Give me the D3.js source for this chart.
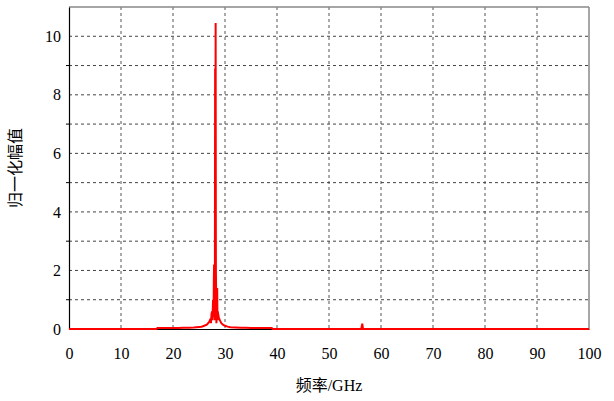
<!DOCTYPE html>
<html>
<head>
<meta charset="utf-8">
<script src="https://cdn.jsdelivr.net/npm/d3@7"></script>
<style>
  body { margin: 0; background: #fff; }
  text { font-family: "Liberation Serif", "Noto Sans CJK SC", serif; }
</style>
</head>
<body>
<script>
// spectrum (GHz, normalised amplitude)
var freq = [0, 16.8, 17, 18, 19, 20, 21, 22, 23, 24, 25, 25.5, 26, 26.5, 27, 27.2, 27.3, 27.4, 27.5, 27.6, 27.7,
  27.8, 27.85, 27.9, 28.0, 28.05, 28.1, 28.15, 28.2, 28.25, 28.3, 28.35, 28.4, 28.5, 28.55, 28.6, 28.7, 28.8, 29, 29.3,
  29.6, 30, 30.5, 31, 32, 33, 34, 35, 36, 37, 38, 39, 39.2, 56.2, 56.4, 56.5, 56.6, 57, 100];
var amp = [0, 0, 0.03, 0.03, 0.03, 0.03, 0.03, 0.04, 0.04, 0.05, 0.07, 0.08, 0.11, 0.15, 0.25, 0.35, 0.2, 0.5, 0.6, 0.3, 1.0,
  0.4, 1.6, 2.2, 1.4, 0.3, 8.9, 3.0, 10.45, 2.0, 1.2, 0.2, 0.9, 1.4, 0.3, 0.6, 0.5, 0.4, 0.3, 0.2,
  0.15, 0.11, 0.08, 0.06, 0.05, 0.04, 0.04, 0.03, 0.03, 0.03, 0.03, 0.03, 0, 0, 0.18, 0.05, 0, 0, 0];

var xTicks = [0, 10, 20, 30, 40, 50, 60, 70, 80, 90, 100];
var yTicks = [0, 2, 4, 6, 8, 10];
var yGrid = [1, 2, 3, 4, 5, 6, 7, 8, 9, 10];
var yMinor = [1, 3, 5, 7, 9];

var svg = d3.select("body").append("svg")
  .attr("width", 614)
  .attr("height", 401);

var margin = {top: 7, right: 25, bottom: 72, left: 69},
  width = 614 - margin.left - margin.right,
  height = 401 - margin.top - margin.bottom,
  g = svg.append("g").attr("transform", "translate(" + margin.left + "," + margin.top + ")");

var x = d3.scaleLinear().domain([0, 100]).range([0, width]);
var y = d3.scaleLinear().domain([0, 11]).range([height, 0]);

// grid
g.selectAll(".vgrid").data(xTicks.slice(1, -1)).enter().append("line")
  .attr("x1", function(d) { return x(d); })
  .attr("x2", function(d) { return x(d); })
  .attr("y1", 0).attr("y2", height)
  .attr("stroke", "#555").attr("stroke-dasharray", "3,3");

g.selectAll(".hgrid").data(yGrid).enter().append("line")
  .attr("y1", function(d) { return y(d); })
  .attr("y2", function(d) { return y(d); })
  .attr("x1", 0).attr("x2", width)
  .attr("stroke", "#444").attr("stroke-dasharray", "3,3");

// frame
g.append("line").attr("x1", 0).attr("x2", width).attr("y1", 0).attr("y2", 0)
  .attr("stroke", "#888").attr("stroke-width", 1.5);
g.append("line").attr("x1", width).attr("x2", width).attr("y1", 0).attr("y2", height)
  .attr("stroke", "#888").attr("stroke-width", 1.5);

// minor ticks
g.selectAll(".minor").data(yMinor).enter().append("line")
  .attr("x1", -3).attr("x2", 0)
  .attr("y1", function(d) { return y(d); })
  .attr("y2", function(d) { return y(d); })
  .attr("stroke", "#000");

// axes
var xAxis = g.append("g")
  .attr("transform", "translate(0," + height + ")")
  .call(d3.axisBottom(x).tickValues(xTicks).tickSize(0).tickPadding(19));
var yAxis = g.append("g")
  .call(d3.axisLeft(y).tickValues(yTicks).tickSize(0).tickPadding(8));

[xAxis, yAxis].forEach(function(a) {
  a.attr("font-family", null).attr("font-size", null);
  a.select(".domain").attr("stroke", "#000").attr("stroke-width", 1.2);
  a.selectAll("text").attr("font-size", 16).attr("fill", "#000")
    .style("font-family", "'Liberation Serif', 'Times New Roman', serif");
});

// spectrum
var line = d3.line()
  .x(function(d, i) { return x(freq[i]); })
  .y(function(d) { return y(d); });

g.append("path")
  .datum(amp)
  .attr("fill", "none")
  .attr("stroke", "#ff0000")
  .attr("stroke-width", 2)
  .attr("d", line);

// labels
svg.append("text")
  .attr("x", margin.left + width / 2)
  .attr("y", 391)
  .attr("text-anchor", "middle")
  .attr("font-size", 16)
  .text("频率/GHz");

svg.append("text")
  .attr("transform", "translate(21," + (margin.top + height / 2) + ") rotate(-90)")
  .attr("text-anchor", "middle")
  .attr("font-size", 16)
  .text("归一化幅值");
</script>
</body>
</html>
